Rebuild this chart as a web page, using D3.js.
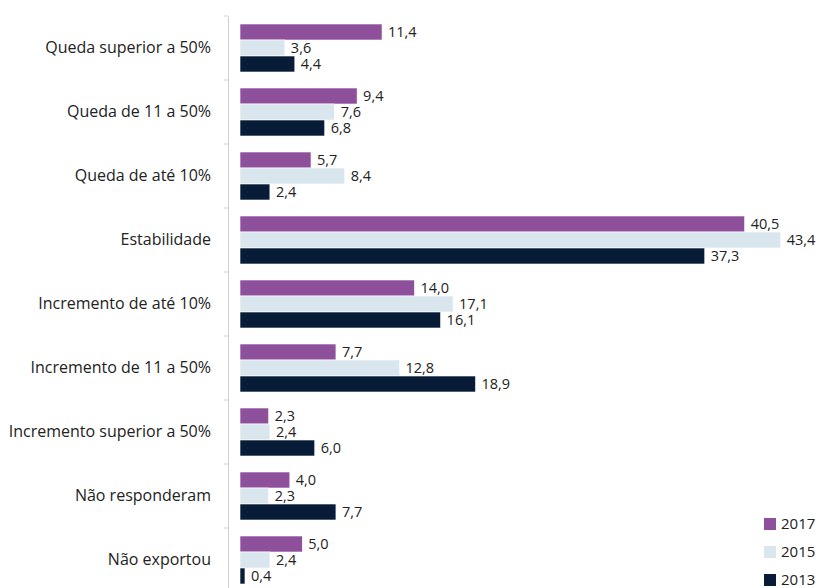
<!DOCTYPE html>
<html><head><meta charset="utf-8">
<script src="https://cdn.jsdelivr.net/npm/d3@7"></script>
<style>
html,body{margin:0;padding:0;background:#fff;}
svg{display:block;font-family:"Open Sans", Lato, sans-serif;}
</style></head>
<body><svg id="c" width="818" height="588"></svg>
<script>
const categories = ["Queda superior a 50%","Queda de 11 a 50%","Queda de até 10%","Estabilidade","Incremento de até 10%","Incremento de 11 a 50%","Incremento superior a 50%","Não responderam","Não exportou"];
const years = ["2017","2015","2013"];
const values2017 = [11.4, 9.4, 5.7, 40.5, 14.0, 7.7, 2.3, 4.0, 5.0];
const values2015 = [3.6, 7.6, 8.4, 43.4, 17.1, 12.8, 2.4, 2.3, 2.4];
const values2013 = [4.4, 6.8, 2.4, 37.3, 16.1, 18.9, 6.0, 7.7, 0.4];
const colors = ["#8e509b","#d9e6ee","#081c37"];

const series = [values2017, values2015, values2013];
const svg = d3.select("#c");
const locale = d3.formatLocale({decimal:",", thousands:".", grouping:[3], currency:["R$",""]});
const fmt = locale.format(".1f");

const x = d3.scaleLinear().domain([0,45]).range([240, 800.7]);
const y = d3.scaleBand().domain(categories).range([16, 592]).paddingInner(0).paddingOuter(0);
const ySub = d3.scaleBand().domain(years).range([8, y.bandwidth()-8]);

// axis
const axis = d3.axisLeft(y).tickSize(0).tickPadding(17).tickSizeOuter(0);
const gAxis = svg.append("g").attr("transform","translate(228,0)").call(axis);
gAxis.select(".domain").attr("stroke","#d0d0d0");
gAxis.selectAll(".tick text").attr("font-size","16px").attr("fill","#222").attr("font-family","'Open Sans', sans-serif");
// boundary ticks
const bounds = categories.map(c=>y(c)).concat([y.range()[1]]);
gAxis.selectAll(".bt").data(bounds).join("line").attr("class","bt")
  .attr("x1",-4).attr("x2",0).attr("y1",d=>d).attr("y2",d=>d).attr("stroke","#d0d0d0");

const groups = svg.append("g").selectAll("g").data(categories).join("g")
  .attr("transform",c=>`translate(0,${y(c)})`);

groups.each(function(c,i){
  const g = d3.select(this);
  years.forEach((yr,k)=>{
    const v = series[k][i];
    g.append("rect").attr("x",x(0)).attr("y",ySub(yr)).attr("width",x(v)-x(0)).attr("height",ySub.bandwidth())
      .attr("fill",colors[k]).attr("stroke","#fff").attr("stroke-width",0.6);
    g.append("text").attr("x",x(v)+6).attr("y",ySub(yr)+ySub.bandwidth()/2).attr("dy","0.36em")
      .attr("font-size","14.5px").attr("fill","#222").text(fmt(v));
  });
});

// legend
const leg = svg.append("g").attr("transform","translate(764,518)");
years.forEach((yr,k)=>{
  const r = leg.append("g").attr("transform",`translate(0,${k*28})`);
  r.append("rect").attr("width",12).attr("height",12).attr("fill",colors[k]);
  r.append("text").attr("x",17).attr("y",6).attr("dy","0.36em").attr("font-size","15px").attr("fill","#222").text(yr);
});
</script></body></html>
